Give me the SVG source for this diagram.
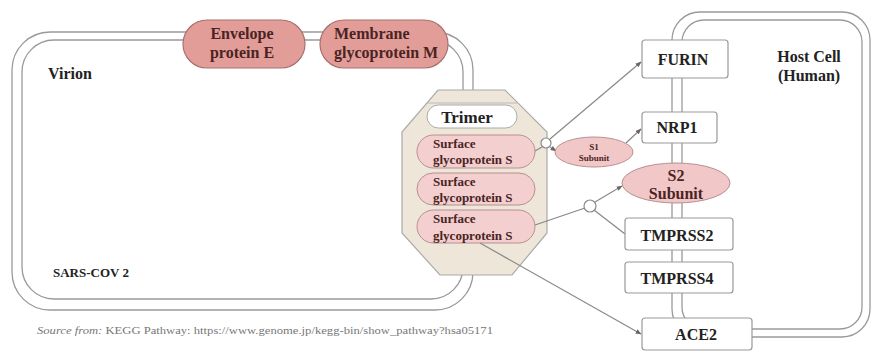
<svg xmlns="http://www.w3.org/2000/svg" width="872" height="352" viewBox="0 0 872 352">
<style>
.b{fill:none;stroke:#9a9a9a;stroke-width:1.3}
.t{font-family:'Liberation Serif','DejaVu Serif','Times New Roman',serif;font-weight:bold;fill:#222}
.pr{fill:#e29d98;stroke:#a87070;stroke-width:1.2}
.ps{fill:#f3cfcf;stroke:#b89090;stroke-width:1}
.bx{fill:#fff;stroke:#999;stroke-width:1.2}
.pt{font-family:'Liberation Serif','DejaVu Serif','Times New Roman',serif;font-weight:bold;fill:#4a2424}
.c{fill:none;stroke:#888;stroke-width:1.2}
.ca{fill:none;stroke:#888;stroke-width:1.2;marker-end:url(#ah)}
.jn{fill:#fff;stroke:#888;stroke-width:1.2}
.cap{font-family:'Liberation Serif','DejaVu Serif','Times New Roman',serif;fill:#777}
</style>
<defs>
<marker id="ah" viewBox="0 0 10 10" refX="9" refY="5" markerWidth="6" markerHeight="6" orient="auto" markerUnits="userSpaceOnUse">
<path d="M0,1 L10,5 L0,9 Z" fill="#666"/>
</marker>
</defs>
<rect width="872" height="352" fill="#fff"/>

<g id="virion">
<rect class="b" x="12" y="32" width="461" height="278" rx="38"/>
<rect class="b" x="22" y="40" width="441" height="259" rx="32"/>
<text class="t" x="48" y="79" font-size="16">Virion</text>
<text class="t" x="53" y="277" font-size="13">SARS-COV 2</text>
</g>

<g id="host-cell">
<rect class="b" x="672" y="12" width="198" height="325" rx="28"/>
<rect class="b" x="682" y="20" width="180" height="309" rx="22"/>
<text class="t" x="809" y="62" font-size="16" text-anchor="middle">Host Cell</text>
<text class="t" x="809" y="81" font-size="16" text-anchor="middle">(Human)</text>
</g>

<g id="envelope-e">
<rect class="pr" x="183" y="20" width="122" height="48" rx="24"/>
<text class="pt" x="242" y="39" font-size="16" text-anchor="middle">Envelope</text>
<text class="pt" x="242" y="58" font-size="16" text-anchor="middle">protein E</text>
</g>

<g id="membrane-m">
<rect class="pr" x="320" y="20" width="128" height="48" rx="24"/>
<text class="pt" x="334" y="39" font-size="16">Membrane</text>
<text class="pt" x="334" y="58" font-size="16">glycoprotein M</text>
</g>

<g id="trimer">
<polygon points="438,90 505,90 547,132 547,233 512,275 440,275 402,233 402,132" fill="#eee6d8" stroke="#aaa" stroke-width="1.2"/>
<line x1="427" y1="103" x2="518" y2="103" stroke="#bbb" stroke-width="1"/>
<rect x="427" y="105" width="90" height="23" rx="11.5" fill="#fff" stroke="#aaa" stroke-width="1"/>
<text class="t" x="467" y="123" font-size="17" text-anchor="middle">Trimer</text>
</g>

<g id="spike-1">
<rect class="ps" x="417" y="135" width="118" height="33" rx="16.5"/>
<text class="pt" x="433" y="148" font-size="13">Surface</text>
<text class="pt" x="433" y="164" font-size="13">glycoprotein S</text>
</g>
<g id="spike-2">
<rect class="ps" x="417" y="173" width="118" height="32" rx="16"/>
<text class="pt" x="433" y="186" font-size="13">Surface</text>
<text class="pt" x="433" y="202" font-size="13">glycoprotein S</text>
</g>
<g id="spike-3">
<rect class="ps" x="417" y="210" width="118" height="33" rx="16.5"/>
<text class="pt" x="433" y="223" font-size="13">Surface</text>
<text class="pt" x="433" y="240" font-size="13">glycoprotein S</text>
</g>

<g id="connectors">
<line class="c" x1="535" y1="151" x2="542" y2="147"/>
<line class="ca" x1="550" y1="147" x2="556" y2="151"/>
<line class="ca" x1="550" y1="139" x2="641" y2="62"/>
<line class="ca" x1="626" y1="143" x2="641" y2="129"/>
<line class="c" x1="535" y1="225" x2="585" y2="208"/>
<line class="ca" x1="595" y1="202" x2="622" y2="186"/>
<line class="c" x1="594" y1="210" x2="625" y2="234"/>
<line class="ca" x1="480" y1="243" x2="641" y2="334"/>
<circle class="jn" cx="546" cy="143" r="5"/>
<circle class="jn" cx="590" cy="206" r="6"/>
</g>

<g id="s1-subunit">
<ellipse cx="594" cy="152" rx="39" ry="15" fill="#f2c7c7" stroke="#b89090" stroke-width="1"/>
<text class="pt" x="594" y="150" font-size="9" text-anchor="middle">S1</text>
<text class="pt" x="594" y="161" font-size="9" text-anchor="middle">Subunit</text>
</g>

<g id="furin">
<rect class="bx" x="642" y="40" width="86" height="38" rx="3"/>
<text class="t" x="683" y="65" font-size="16" text-anchor="middle">FURIN</text>
</g>
<g id="nrp1">
<rect class="bx" x="642" y="112" width="75" height="31" rx="3"/>
<text class="t" x="677" y="133" font-size="16" text-anchor="middle">NRP1</text>
</g>
<g id="s2-subunit">
<ellipse cx="676" cy="183" rx="54" ry="20" fill="#f2c7c7" stroke="#b89090" stroke-width="1"/>
<text class="pt" x="676" y="181" font-size="16" text-anchor="middle">S2</text>
<text class="pt" x="676" y="199" font-size="16" text-anchor="middle">Subunit</text>
</g>
<g id="tmprss2">
<rect class="bx" x="625" y="218" width="108" height="32" rx="3"/>
<text class="t" x="677" y="241" font-size="16" text-anchor="middle">TMPRSS2</text>
</g>
<g id="tmprss4">
<rect class="bx" x="625" y="262" width="108" height="31" rx="3"/>
<text class="t" x="677" y="284" font-size="16" text-anchor="middle">TMPRSS4</text>
</g>
<g id="ace2">
<rect class="bx" x="642" y="318" width="110" height="32" rx="3"/>
<text class="t" x="696" y="340" font-size="16" text-anchor="middle">ACE2</text>
</g>

<text class="cap" x="37" y="334" font-size="10.5" textLength="456" lengthAdjust="spacingAndGlyphs"><tspan font-style="italic">Source from:</tspan> KEGG Pathway:  https://www.genome.jp/kegg-bin/show_pathway?hsa05171</text>
</svg>
